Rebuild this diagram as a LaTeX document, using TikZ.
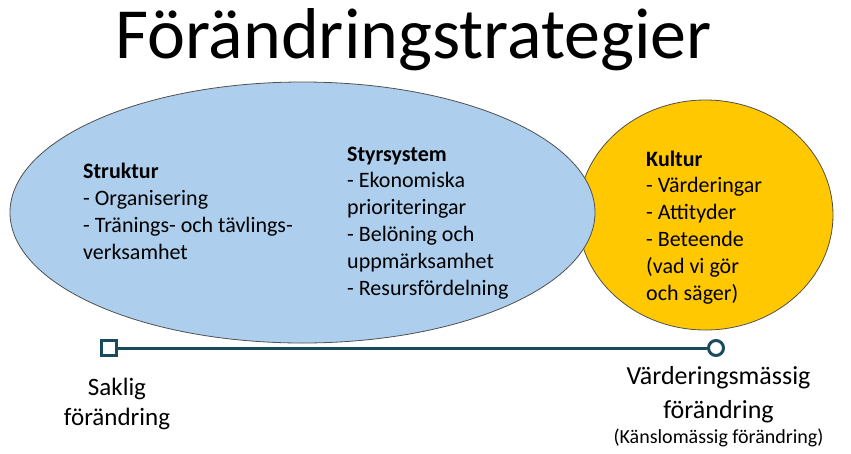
\documentclass[tikz,border=0pt]{standalone}
\usepackage{fontspec}
\setmainfont{Carlito}
\usetikzlibrary{positioning}

\definecolor{ljusbla}{RGB}{173,206,236}
\definecolor{guld}{RGB}{255,200,0}
\definecolor{kant}{RGB}{80,80,80}
\definecolor{petrol}{RGB}{26,74,94}

\begin{document}
\begin{tikzpicture}[x=1pt, y=-1pt,
    lista/.style={anchor=base west, align=left, inner sep=0pt, font=\fontsize{22}{26.8}\selectfont},
    etikett/.style={anchor=base, align=center, inner sep=0pt, font=\fontsize{25}{30}\selectfont},
    skala/.style={draw=petrol, line width=3pt}]
    \useasboundingbox (0,0) rectangle (851,453);

    \node [anchor=base, inner sep=0pt, font=\fontsize{72}{80}\selectfont] (titel) at (413.5,58) {Förändringstrategier};

    % the two areas
    \draw [fill=guld, draw=kant, line width=0.8pt] (705.5,215) ellipse [x radius=127.5, y radius=115];
    \draw [fill=ljusbla, draw=kant, line width=0.8pt] (302.5,212.5) ellipse [x radius=292.5, y radius=130.5];

    % anchor base = baseline of the last line
    \node [lista] (struktur) at (83,259) {\textbf{Struktur}\\- Organisering\\- Tränings- och tävlings-\\verksamhet};
    \node [lista] (styr) at (347,295) {\textbf{Styrsystem}\\- Ekonomiska\\prioriteringar\\- Belöning och\\uppmärksamhet\\- Resursfördelning};
    \node [lista] (kultur) at (646,300) {\textbf{Kultur}\\- Värderingar\\- Attityder\\- Beteende\\(vad vi gör\\och säger)};

    % scale from saklig to värderingsmässig
    \node [skala, rectangle, minimum size=15pt, inner sep=0pt] (saklig) at (109,348) {};
    \node [skala, circle, minimum size=15pt, inner sep=0pt] (varde) at (716,348) {};
    \draw [skala] (saklig) -- (varde);

    \node [etikett] (sakligtext) at (117,425) {Saklig\\förändring};
    \node [etikett, font=\fontsize{26}{34}\selectfont] (vardetext) at (718.5,418) {Värderingsmässig\\förändring};
    \node [anchor=base, inner sep=0pt, font=\fontsize{20}{22}\selectfont] (kansla) at (718.5,443) {(Känslomässig förändring)};
\end{tikzpicture}
\end{document}
